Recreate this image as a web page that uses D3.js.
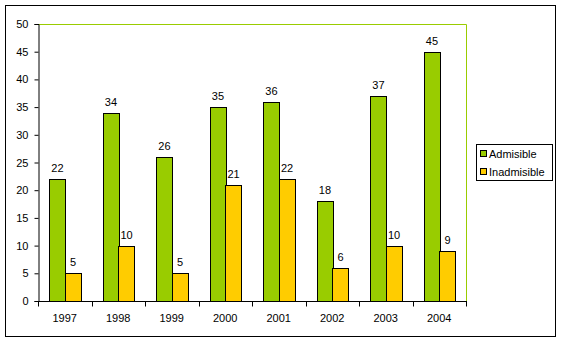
<!DOCTYPE html>
<html><head><meta charset="utf-8">
<script src="https://cdn.jsdelivr.net/npm/d3@7"></script>
<style>body{margin:0;background:#fff}svg{display:block}text{font-family:"Liberation Sans",Arial,sans-serif;font-size:11px;fill:#000}</style>
</head><body><svg id="c" width="561" height="342"></svg>
<script>
const years = ["1997","1998","1999","2000","2001","2002","2003","2004"];
const admisible = [22,34,26,35,36,18,37,45];
const inadmisible = [5,10,5,21,22,6,10,9];
const seriesNames = ["Admisible","Inadmisible"];
const seriesColors = ["#99CC00","#FFCC00"];
const yTicks = [0,5,10,15,20,25,30,35,40,45,50];

const svg = d3.select("#c");
svg.append("rect").attr("x",5.5).attr("y",5.5).attr("width",550).attr("height",331).attr("fill","#fff").attr("stroke","#000").attr("stroke-width",1);

const L=38, R=466, T=24, B=301;
const x = d3.scaleBand().domain(years).range([L,R]).paddingInner(0.42).paddingOuter(0.21);
const xs = d3.scaleBand().domain(seriesNames).range([0,x.bandwidth()]);
const y = d3.scaleLinear().domain([0,50]).range([B,T]);

svg.append("path").attr("d",`M${L},${T+0.5}H${R+0.5}V${B}`).attr("fill","none").attr("stroke","#99CC00").attr("stroke-width",1);

const data = [admisible, inadmisible];
years.forEach((yr,i)=>{
  data.forEach((arr,s)=>{
    const v = arr[i];
    const bx = x(yr)+xs(seriesNames[s]);
    svg.append("rect").attr("x",Math.round(bx)+0.5).attr("y",Math.round(y(v))+0.5)
      .attr("width",Math.round(xs.bandwidth())).attr("height",Math.round(y(0))-Math.round(y(v)))
      .attr("fill",seriesColors[s]).attr("stroke","#000").attr("stroke-width",1);
    svg.append("text").attr("x",bx+xs.bandwidth()/2+0.5).attr("y",y(v)-7).attr("text-anchor","middle").text(v);
  });
});

const yAxis = svg.append("g").attr("transform",`translate(${L+0.5},0)`)
  .call(d3.axisLeft(y).tickValues(yTicks).tickSize(4).tickPadding(6));
yAxis.select(".domain").attr("stroke","#000");
yAxis.selectAll("text").style("font-size","11px").attr("font-family","Liberation Sans, Arial, sans-serif");

const xg = svg.append("g").attr("transform",`translate(0,${B+0.5})`);
xg.append("line").attr("x1",L).attr("x2",R+1).attr("stroke","#000");
const step = (R-L)/years.length;
d3.range(years.length+1).forEach(k=>{
  const px = Math.round(L+k*step)+0.5;
  xg.append("line").attr("x1",px).attr("x2",px).attr("y1",0).attr("y2",5).attr("stroke","#000");
});
years.forEach(yr=>{
  xg.append("text").attr("x",x(yr)+x.bandwidth()/2).attr("y",20.5).attr("text-anchor","middle").text(yr);
});

const lg = svg.append("g");
lg.append("rect").attr("x",476.5).attr("y",144.5).attr("width",76).attr("height",36).attr("fill","#fff").attr("stroke","#000");
seriesNames.forEach((n,i)=>{
  const cy = 154 + i*18;
  lg.append("rect").attr("x",480.5).attr("y",cy-3.5).attr("width",6).attr("height",6).attr("fill",seriesColors[i]).attr("stroke","#000");
  lg.append("text").attr("x",489).attr("y",cy+4).text(n);
});
</script></body></html>
